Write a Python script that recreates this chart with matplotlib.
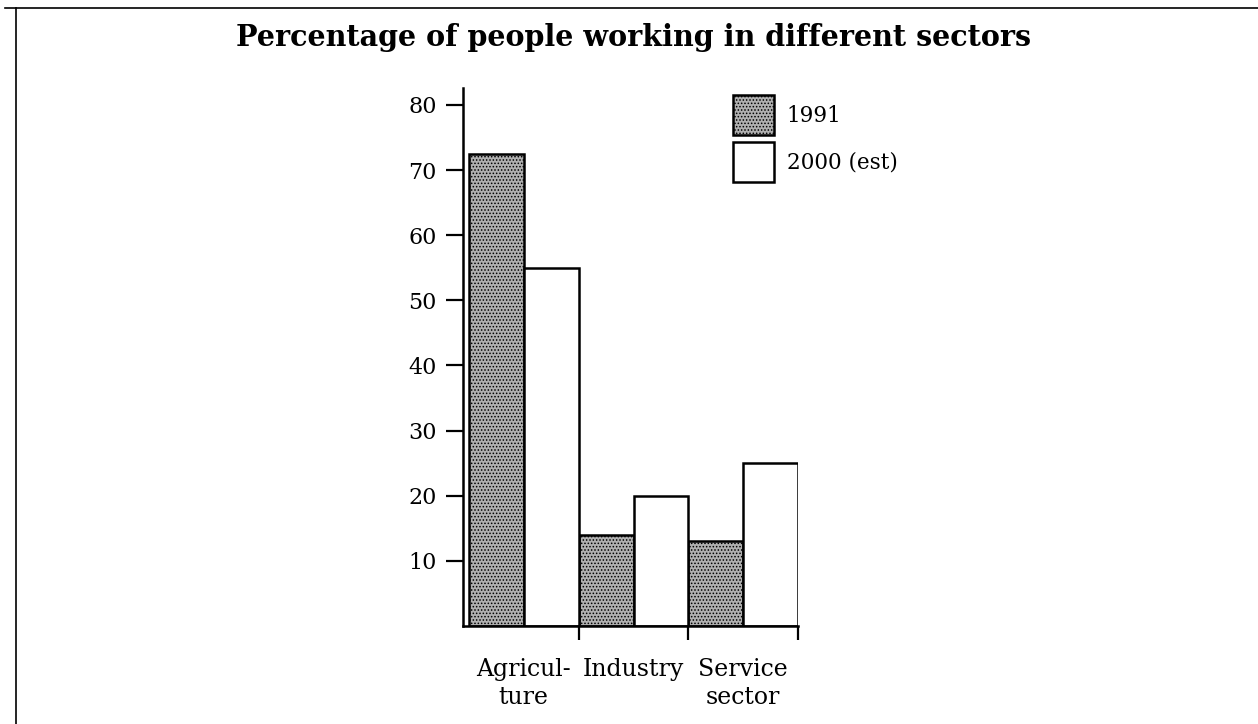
import matplotlib
matplotlib.use("Agg")
import matplotlib.pyplot as plt
from matplotlib.lines import Line2D
import numpy as np

# data
sectors = ["Agricul-\nture", "Industry", "Service\nsector"]
vals1991 = [72.5, 14, 13]
vals2000 = [55, 20, 25]
yticks = [10, 20, 30, 40, 50, 60, 70, 80]

plt.rcParams['font.family'] = 'DejaVu Serif'
plt.rcParams['hatch.linewidth'] = 0.7

W, H = 1258, 724
fig = plt.figure(figsize=(W / 100, H / 100), dpi=100)
fig.patch.set_facecolor('white')

# axes placed in pixel terms
ax = fig.add_axes([463 / W, 1 - 626 / H, (798 - 463) / W, (626 - 88) / H])

x = np.arange(len(sectors))
bw = 0.5
ax.bar(x - bw / 2, vals1991, width=bw, facecolor='#b0b0b0', edgecolor='black',
       linewidth=1.8, hatch='.....', label='1991')
ax.bar(x + bw / 2, vals2000, width=bw, facecolor='white', edgecolor='black',
       linewidth=1.8, label='2000 (est)')

ax.set_xlim(-0.555, 2.5)
ax.set_ylim(0, 82.6)

for s in ['top', 'right']:
    ax.spines[s].set_visible(False)
for s in ['left', 'bottom']:
    ax.spines[s].set_linewidth(1.8)

ax.set_yticks(yticks)
ax.set_yticklabels([str(t) for t in yticks])
ax.tick_params(axis='y', direction='out', length=12, width=1.6, pad=7, labelsize=16)

# group boundaries as major ticks, names as minor ticks
ax.set_xticks([0.5, 1.5, 2.5])
ax.set_xticklabels([])
ax.tick_params(axis='x', which='major', direction='out', length=10, width=1.6)
ax.set_xticks(x, sectors, minor=True)
ax.tick_params(axis='x', which='minor', length=0, pad=23, labelsize=17)
for lab in ax.get_xticklabels(minor=True):
    lab.set_linespacing(1.29)

# legend boxes ~41x40 px, small gap between them
leg = ax.legend(loc='upper left', bbox_to_anchor=(733 / W, 1 - 95 / H),
                bbox_transform=fig.transFigure, frameon=False, fontsize=15.5,
                handlelength=1.9, handleheight=2.48, labelspacing=0.33,
                handletextpad=0.6, borderpad=0, borderaxespad=0)

fig.text(634 / W, 1 - 23 / H, "Percentage of people working in different sectors",
         ha='center', va='top', fontsize=20.6, fontweight='bold')

# page border lines
fig.add_artist(Line2D([5 / W, 1.0], [1 - 8 / H, 1 - 8 / H], color='black', lw=1.2))
fig.add_artist(Line2D([16 / W, 16 / W], [0, 1 - 8 / H], color='black', lw=1.2))

fig.savefig('out.png', dpi=100)
